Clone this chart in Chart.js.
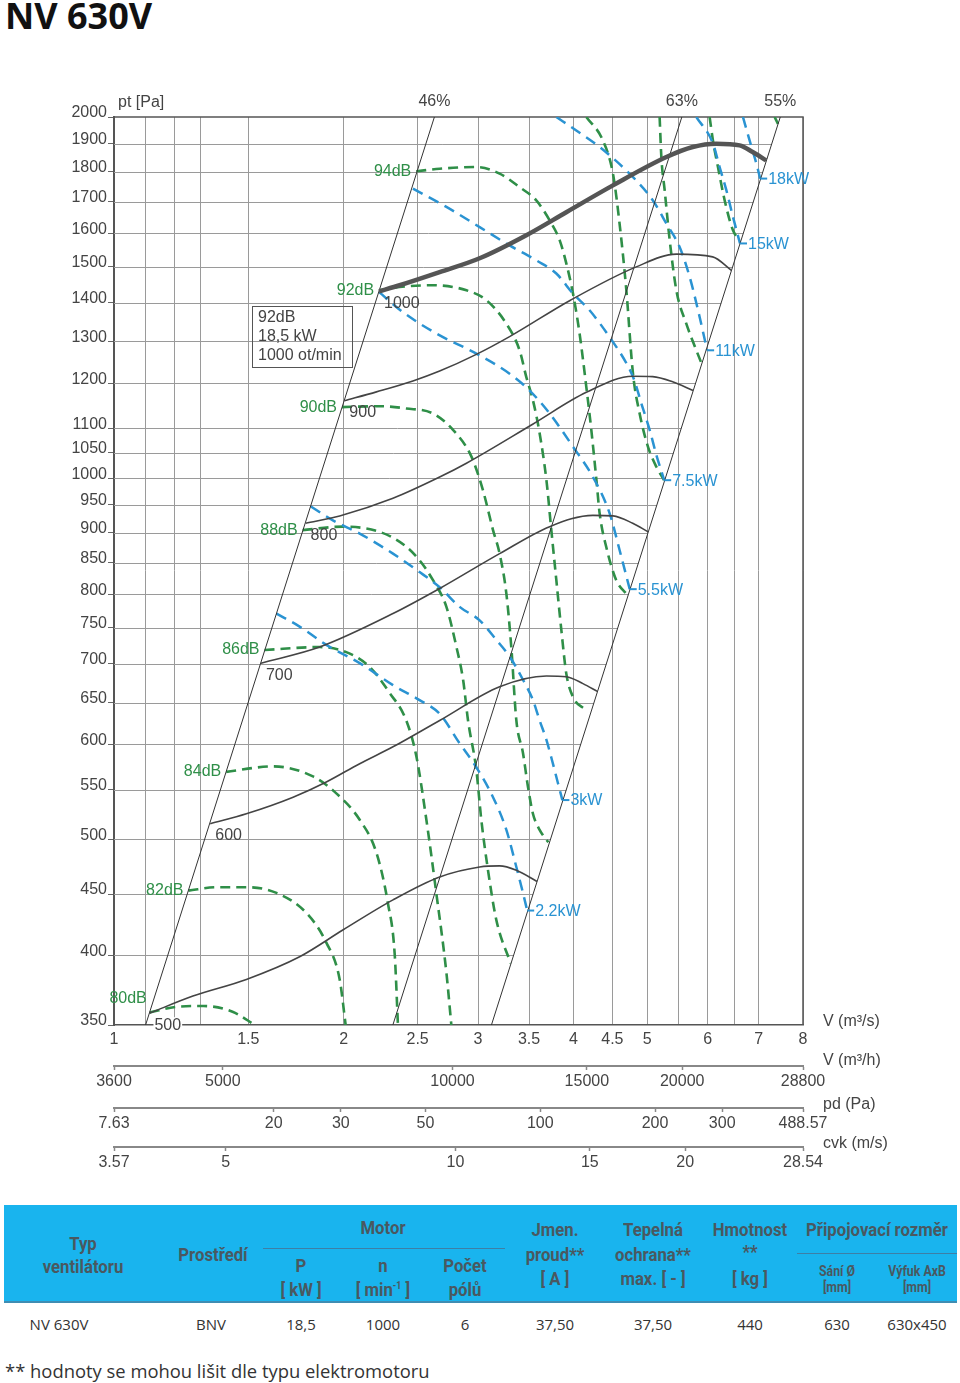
<!DOCTYPE html>
<html lang="cs">
<head>
<meta charset="utf-8">
<title>NV 630V</title>
<script src="https://cdn.jsdelivr.net/npm/chart.js@4.4.1/dist/chart.umd.min.js"></script>
<style>
  html, body { margin: 0; padding: 0; background: #fff; }
  body { width: 960px; height: 1383px; position: relative; overflow: hidden; }
  #title { position: absolute; left: 5px; top: -2px; font: 700 36px/36px 'Open Sans', sans-serif; color: #111; }
  #chartBox { position: absolute; left: 0; top: 0; width: 960px; height: 1180px; }
  .band { position: absolute; left: 4px; top: 1205px; width: 953px; height: 96px; background: #19b4ee; border-bottom: 2px solid #3f8db3; }
  .rule { position: absolute; height: 0; border-top: 1.5px solid #3d7fa6; }
  .h { position: absolute; width: 200px; margin-left: -100px; text-align: center; font: 700 19px/19px Roboto, sans-serif; color: #4a5860; transform: scaleX(0.88); white-space: nowrap; }
  .h.s { font-size: 14px; line-height: 14px; }
  .h sup { font-size: 10px; line-height: 0; }
  .c { position: absolute; width: 160px; margin-left: -80px; text-align: center; font: 15px/15px 'Open Sans', sans-serif; color: #333; white-space: nowrap; }
  #note { position: absolute; left: 5px; top: 1359px; font: 18.4px/24px 'Open Sans', sans-serif; color: #333; white-space: nowrap; }
</style>
</head>
<body>
<div id="title">NV 630V</div>
<div id="chartBox"><canvas id="chartCanvas" width="960" height="1180"></canvas></div>

<div class="band"></div>
<div class="rule" style="left:263px; width:242px; top:1248px;"></div>
<div class="rule" style="left:797px; width:160px; top:1253px;"></div>

<div class="h" style="left:83px; top:1234px;">Typ</div>
<div class="h" style="left:83px; top:1257px;">ventilátoru</div>
<div class="h" style="left:213px; top:1245px;">Prostředí</div>
<div class="h" style="left:383px; top:1218px;">Motor</div>
<div class="h" style="left:301px; top:1256px;">P</div>
<div class="h" style="left:301px; top:1280px;">[ kW ]</div>
<div class="h" style="left:383px; top:1256px;">n</div>
<div class="h" style="left:383px; top:1280px;">[ min<sup>-1</sup> ]</div>
<div class="h" style="left:465px; top:1256px;">Počet</div>
<div class="h" style="left:465px; top:1280px;">pólů</div>
<div class="h" style="left:555px; top:1220px;">Jmen.</div>
<div class="h" style="left:555px; top:1245px;">proud**</div>
<div class="h" style="left:555px; top:1269px;">[ A ]</div>
<div class="h" style="left:653px; top:1220px;">Tepelná</div>
<div class="h" style="left:653px; top:1245px;">ochrana**</div>
<div class="h" style="left:653px; top:1269px;">max. [ - ]</div>
<div class="h" style="left:750px; top:1220px;">Hmotnost</div>
<div class="h" style="left:750px; top:1242px;">**</div>
<div class="h" style="left:750px; top:1269px;">[ kg ]</div>
<div class="h" style="left:877px; top:1220px;">Připojovací rozměr</div>
<div class="h s" style="left:837px; top:1264px;">Sání Ø</div>
<div class="h s" style="left:837px; top:1280px;">[mm]</div>
<div class="h s" style="left:917px; top:1264px;">Výfuk AxB</div>
<div class="h s" style="left:917px; top:1280px;">[mm]</div>

<div class="c" style="left:59px; top:1317px;">NV 630V</div>
<div class="c" style="left:211px; top:1317px;">BNV</div>
<div class="c" style="left:301px; top:1317px;">18,5</div>
<div class="c" style="left:383px; top:1317px;">1000</div>
<div class="c" style="left:465px; top:1317px;">6</div>
<div class="c" style="left:555px; top:1317px;">37,50</div>
<div class="c" style="left:653px; top:1317px;">37,50</div>
<div class="c" style="left:750px; top:1317px;">440</div>
<div class="c" style="left:837px; top:1317px;">630</div>
<div class="c" style="left:917px; top:1317px;">630x450</div>

<div id="note">** hodnoty se mohou lišit dle typu elektromotoru</div>

<script>
// osy
const V_MIN = 1, V_MAX = 8;
const PT_MIN = 350, PT_MAX = 2000;
const V_GRID = [1, 1.1, 1.2, 1.3, 1.5, 2, 2.5, 3, 3.5, 4, 4.5, 5, 5.5, 6, 6.5, 7, 8];
const V_LABELS = [1, 1.5, 2, 2.5, 3, 3.5, 4, 4.5, 5, 6, 7, 8];
const PT_TICKS = [350, 400, 450, 500, 550, 600, 650, 700, 750, 800, 850, 900, 950, 1000, 1050, 1100, 1200, 1300, 1400, 1500, 1600, 1700, 1800, 1900, 2000];
const VH_TICKS = [3600, 5000, 10000, 15000, 20000, 28800];
const PD_TICKS = [7.63, 20, 30, 50, 100, 200, 300, 488.57];
const CVK_TICKS = [3.57, 5, 10, 15, 20, 28.54];

// charakteristiky ventilatoru [V m3/s, pt Pa]
const fan1000 = [[2.225,1431],[2.368,1448],[2.672,1485],[3.015,1525],[3.471,1594],[3.916,1666],[4.508,1754],[5.297,1852],[5.735,1888],[6.159,1900],[6.607,1894],[6.872,1870],[7.161,1840]];
const fan900 = [[2.004,1160],[2.208,1180],[2.465,1205],[2.672,1228],[2.985,1268],[3.300,1312],[3.965,1407],[4.836,1500],[5.459,1537],[6.091,1529],[6.445,1490]];
const fan800 = [[1.783,917],[1.976,930],[2.321,962],[2.672,1002],[2.897,1029],[3.538,1109],[4.160,1179],[4.785,1216],[5.082,1215],[5.398,1203],[5.740,1183]];
const fan700 = [[1.558,701],[1.860,723],[2.321,771],[2.672,809],[3.202,865],[3.724,911],[4.244,931],[4.508,930],[4.785,917],[5.013,902]];
const fan600 = [[1.337,515],[1.491,525],[1.717,542],[1.898,558],[2.099,578],[2.321,597],[2.672,628],[3.202,670],[3.688,684],[3.916,683],[4.118,674],[4.300,664]];
const fan500 = [[1.113,358],[1.269,370],[1.491,382],[1.751,399],[1.995,420],[2.321,445],[2.672,465],[3.015,474],[3.202,475],[3.368,471],[3.585,461]];
const FAN_LABELS = ['1000', '900', '800', '700', '600', '500'];

// ucinnost
const eta46 = [[1.10,350],[2.63,2000]];
const eta63 = [[2.32,350],[5.55,2000]];
const eta55 = [[3.124,350],[7.47,2000]];
const ETA_LABELS = ['46%', '63%', '55%'];

// hluk
const db80 = [[1.114,358.5],[1.21,362.5],[1.31,363],[1.43,359],[1.53,350]];
const db82 = [[1.252,453],[1.362,456],[1.491,456],[1.633,451],[1.787,434],[1.898,410],[1.976,382],[2.012,350]];
const db84 = [[1.403,569],[1.616,575],[1.823,564],[1.956,546],[2.099,519],[2.208,487],[2.286,442],[2.333,401],[2.356,350]];
const db86 = [[1.575,719],[1.860,723],[2.016,716],[2.163,696],[2.298,662],[2.416,628],[2.491,586],[2.567,519],[2.645,451],[2.727,387],[2.768,350]];
const db88 = [[1.767,905],[1.995,911],[2.229,902],[2.404,879],[2.515,854],[2.619,822],[2.727,781],[2.811,723],[2.868,679],[2.911,628],[2.985,571],[3.030,519],[3.092,471],[3.171,428],[3.310,394]];
const db90 = [[1.990,1146],[2.229,1148],[2.416,1143],[2.619,1132],[2.782,1097],[2.941,1042],[3.045,977],[3.139,905],[3.202,865],[3.268,801],[3.317,723],[3.368,628],[3.436,590],[3.488,553],[3.541,525],[3.613,509],[3.710,497]];
const db92 = [[2.226,1434],[2.368,1443],[2.619,1448],[2.897,1434],[3.077,1407],[3.268,1345],[3.401,1278],[3.471,1214],[3.541,1161],[3.613,1090],[3.688,996],[3.743,905],[3.800,822],[3.858,747],[3.916,687],[3.996,657],[4.150,641]];
const db94 = [[2.490,1802],[2.672,1811],[2.985,1817],[3.202,1794],[3.401,1748],[3.577,1704],[3.724,1640],[3.838,1579],[3.916,1510],[3.996,1425],[4.076,1320],[4.160,1191],[4.223,1097],[4.289,996],[4.330,935],[4.418,876],[4.553,822],[4.700,800]];
const db96 = [[4.160,2000],[4.373,1912],[4.508,1794],[4.599,1630],[4.694,1434],[4.789,1222],[4.886,1132],[5.011,1062],[5.139,1022],[5.260,996]];
const db98 = [[5.190,2000],[5.217,1852],[5.270,1737],[5.350,1579],[5.459,1434],[5.625,1345],[5.798,1278],[5.890,1246]];
const db100 = [[6.035,2000],[6.096,1912],[6.189,1817],[6.316,1704],[6.476,1609],[6.600,1580]];
const db102 = [[7.343,2000],[7.418,1974]];
const DB_LABELS = ['80dB', '82dB', '84dB', '86dB', '88dB', '90dB', '92dB', '94dB'];

// prikon
const kw2_2 = [[1.633,771],[1.751,752],[1.898,726],[2.099,701],[2.321,672],[2.515,653],[2.672,636],[2.838,601],[2.985,574],[3.139,542],[3.268,509],[3.368,474],[3.436,451],[3.480,436]];
const kw3 = [[1.812,947],[1.936,922],[2.099,899],[2.321,865],[2.515,835],[2.672,811],[2.838,781],[3.015,761],[3.171,733],[3.300,710],[3.436,679],[3.541,653],[3.613,628],[3.688,605],[3.761,578],[3.818,557],[3.870,539]];
const kw5_5 = [[2.226,1429],[2.392,1375],[2.645,1320],[2.985,1270],[3.300,1222],[3.506,1183],[3.724,1132],[3.996,1062],[4.244,1002],[4.462,935],[4.599,871],[4.742,808]];
const kw7_5 = [[2.465,1743],[2.727,1683],[3.015,1619],[3.300,1563],[3.577,1519],[3.800,1481],[3.996,1425],[4.201,1380],[4.462,1311],[4.700,1245],[4.800,1210],[4.920,1150],[5.036,1097],[5.140,1045],[5.262,996]];
const kw11 = [[3.800,2000],[4.036,1949],[4.330,1888],[4.789,1782],[5.086,1704],[5.297,1630],[5.513,1558],[5.683,1471],[5.855,1363],[5.990,1278]];
const kw15 = [[5.798,2000],[6.096,1901],[6.220,1817],[6.349,1737],[6.476,1651],[6.615,1569]];
const kw18 = [[6.674,2000],[6.809,1912],[6.950,1829],[7.030,1777]];
const KW_LABELS = ['2.2kW', '3kW', '5.5kW', '7.5kW', '11kW', '15kW', '18kW'];

const FANS = [fan1000, fan900, fan800, fan700, fan600, fan500];
const ETAS = [eta46, eta63, eta55];
const DBS = [db80, db82, db84, db86, db88, db90, db92, db94, db96, db98, db100, db102];
const KWS = [kw2_2, kw3, kw5_5, kw7_5, kw11, kw15, kw18];

const GREEN = '#2f8f48';
const BLUE = '#2a93d2';
const GRAY = '#444';
const FONT = '16px "Liberation Sans", Arial, sans-serif';

const pts = arr => arr.map(([x, y]) => ({ x, y }));

function line(data, color, width, dash) {
  return {
    data: pts(data),
    showLine: true,
    borderColor: color,
    borderWidth: width,
    borderDash: dash || [],
    pointRadius: 0,
    cubicInterpolationMode: 'monotone',
    fill: false
  };
}

// V na primce pro dany tlak (log-log)
function vOnLine(l, p) {
  const [[v0, p0], [v1, p1]] = l;
  const t = (Math.log(p) - Math.log(p0)) / (Math.log(p1) - Math.log(p0));
  return Math.exp(Math.log(v0) + t * (Math.log(v1) - Math.log(v0)));
}

const datasets = [];
FANS.forEach((f, i) => datasets.push(line(f, i === 0 ? '#555' : GRAY, i === 0 ? 4.5 : 1.6)));
ETAS.forEach(e => datasets.push(line(e, '#333', 1)));
KWS.forEach(k => datasets.push(line(k, BLUE, 2.5, [11, 7])));
DBS.forEach(d => datasets.push(line(d, GREEN, 2.6, [10, 6])));

function text(ctx, s, x, y, color, align) {
  ctx.fillStyle = color;
  ctx.textAlign = align || 'left';
  ctx.textBaseline = 'middle';
  ctx.fillText(s, x, y);
}

const overlay = {
  id: 'overlay',
  beforeDatasetsDraw(chart) {
    const { ctx, chartArea: a, scales: { x, y } } = chart;
    ctx.save();
    // vodorovna mrizka jen po primku 55 %
    ctx.strokeStyle = '#9a9a9a';
    ctx.lineWidth = 1;
    PT_TICKS.forEach(p => {
      if (p <= PT_MIN || p >= PT_MAX) return;
      const py = Math.round(y.getPixelForValue(p)) + 0.5;
      const px = x.getPixelForValue(vOnLine(eta55, p));
      ctx.beginPath(); ctx.moveTo(a.left, py); ctx.lineTo(px, py); ctx.stroke();
    });
    // horni a prava hrana
    ctx.strokeStyle = '#555';
    ctx.lineWidth = 1.5;
    ctx.beginPath();
    ctx.moveTo(a.left, a.top); ctx.lineTo(a.right, a.top); ctx.lineTo(a.right, a.bottom);
    ctx.stroke();
    ctx.restore();
  },
  afterDraw(chart) {
    const { ctx, chartArea: a, scales } = chart;
    const x = scales.x, y = scales.y;
    const P = ([v, p]) => [x.getPixelForValue(v), y.getPixelForValue(p)];
    ctx.save();
    ctx.font = FONT;

    text(ctx, 'pt [Pa]', a.left + 4, a.top - 14, GRAY);

    ETAS.forEach((e, i) => {
      const [px] = P(e[1]);
      text(ctx, ETA_LABELS[i], px, a.top - 15, GRAY, 'center');
    });

    FANS.forEach((f, i) => {
      const [px, py] = P(f[0]);
      const lx = px + 5, ly = py + 12;
      if (FAN_LABELS[i] === '500') {
        const w = ctx.measureText('500').width;
        ctx.fillStyle = '#fff';
        ctx.fillRect(lx - 1, ly - 8, w + 2, 16);
      }
      text(ctx, FAN_LABELS[i], lx, ly, GRAY);
    });

    DB_LABELS.forEach((lab, i) => {
      const [px, py] = P(DBS[i][0]);
      if (lab === '80dB') text(ctx, lab, px - 3, py - 14, GREEN, 'right');
      else text(ctx, lab, px - 5, py, GREEN, 'right');
    });

    KW_LABELS.forEach((lab, i) => {
      const k = KWS[i];
      const [px, py] = P(k[k.length - 1]);
      ctx.strokeStyle = BLUE;
      ctx.lineWidth = 2;
      ctx.beginPath(); ctx.moveTo(px, py); ctx.lineTo(px + 7, py); ctx.stroke();
      text(ctx, lab, px + 8, py + 1, BLUE);
    });

    // informacni ramecek
    const bx = a.left + 138, by = a.top + 189;
    ctx.strokeStyle = '#555';
    ctx.lineWidth = 1;
    ctx.strokeRect(bx + 0.5, by + 0.5, 100, 61);
    text(ctx, '92dB', bx + 6, by + 12, GRAY);
    text(ctx, '18,5 kW', bx + 6, by + 31, GRAY);
    text(ctx, '1000 ot/min', bx + 6, by + 50, GRAY);

    // popisy spodnich os
    const tx = a.right + 20;
    text(ctx, 'V (m³/s)', tx, scales.x.top - 3, GRAY);
    text(ctx, 'V (m³/h)', tx, scales.vh.top - 5, GRAY);
    text(ctx, 'pd (Pa)', tx, scales.pd.top - 3, GRAY);
    text(ctx, 'cvk (m/s)', tx, scales.cvk.top - 3, GRAY);
    ctx.restore();
  }
};

function bottomAxis(min, max, ticks, weight, height, pad) {
  return {
    type: 'logarithmic',
    position: 'bottom',
    weight: weight,
    min: min,
    max: max,
    bounds: 'data',
    afterBuildTicks: s => { s.ticks = ticks.map(v => ({ value: v })); },
    afterFit: s => { s.height = height; },
    grid: { drawOnChartArea: false, drawTicks: true, tickLength: 4, color: '#888', tickWidth: 1.5 },
    border: { display: true, color: '#888', width: 2 },
    ticks: { autoSkip: false, maxRotation: 0, padding: pad, color: GRAY, font: { family: '"Liberation Sans", Arial', size: 16 }, callback: v => String(v) }
  };
}

Chart.defaults.font.family = '"Liberation Sans", Arial, sans-serif';
Chart.defaults.font.size = 16;
Chart.defaults.color = GRAY;

new Chart(document.getElementById('chartCanvas'), {
  type: 'scatter',
  data: { datasets: datasets },
  options: {
    responsive: false,
    animation: false,
    events: [],
    layout: { padding: { left: 0, right: 157, top: 117, bottom: 5 } },
    plugins: { legend: { display: false }, tooltip: { enabled: false } },
    scales: {
      x: {
        type: 'logarithmic',
        position: 'bottom',
        weight: 0,
        min: V_MIN,
        max: V_MAX,
        bounds: 'data',
        afterBuildTicks: s => { s.ticks = V_GRID.map(v => ({ value: v })); },
        afterFit: s => { s.height = 41; },
        grid: { color: '#9a9a9a', lineWidth: 1, drawTicks: false },
        border: { display: true, color: '#555', width: 1.5 },
        ticks: { autoSkip: false, maxRotation: 0, padding: 5, color: GRAY, callback: v => V_LABELS.includes(v) ? String(v) : '' }
      },
      vh: bottomAxis(3600, 28800, VH_TICKS, 1, 42, 2),
      pd: bottomAxis(7.63, 488.57, PD_TICKS, 2, 39, 2),
      cvk: bottomAxis(3.57, 28.54, CVK_TICKS, 3, 28, 2),
      y: {
        type: 'logarithmic',
        position: 'left',
        min: PT_MIN,
        max: PT_MAX,
        bounds: 'data',
        afterBuildTicks: s => { s.ticks = PT_TICKS.map(v => ({ value: v })); },
        afterFit: s => { s.width = 114; },
        grid: { drawOnChartArea: false, drawTicks: true, tickLength: 6, color: '#666' },
        border: { display: true, color: '#555', width: 2 },
        ticks: { autoSkip: false, padding: 1, labelOffset: -4, color: GRAY, callback: v => String(v) }
      }
    }
  },
  plugins: [overlay]
});
</script>
</body>
</html>
